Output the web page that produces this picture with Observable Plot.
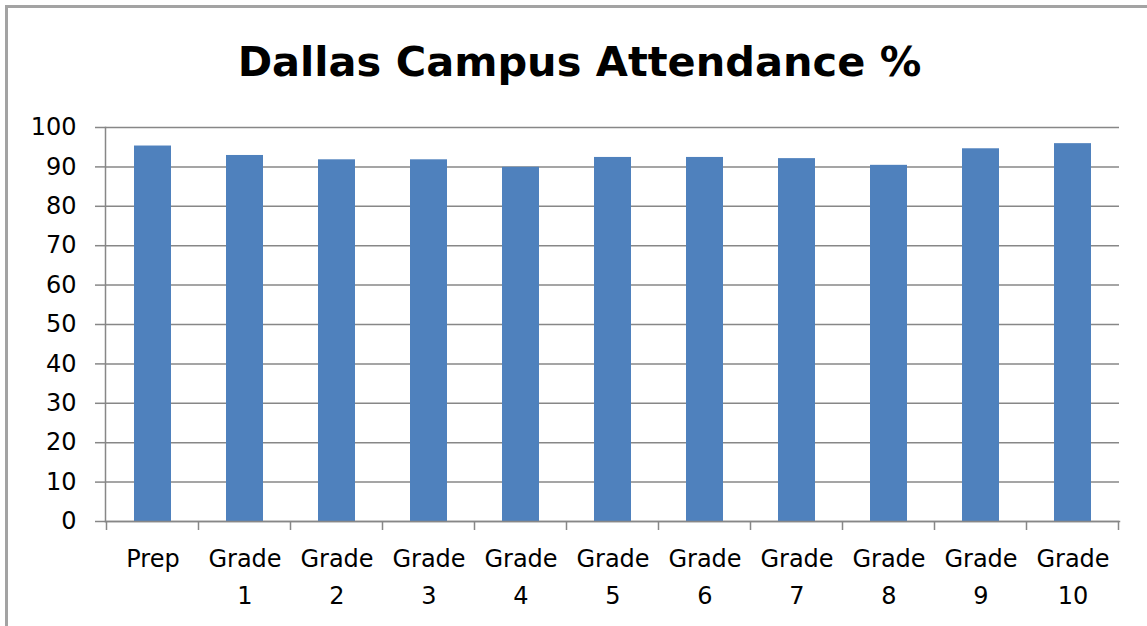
<!DOCTYPE html>
<html>
<head>
<meta charset="utf-8">
<script src="https://cdn.jsdelivr.net/npm/d3@7"></script>
<script src="https://cdn.jsdelivr.net/npm/@observablehq/plot@0.6"></script>
<style>
  html, body { margin: 0; padding: 0; background: #fff; width: 1147px; height: 626px; overflow: hidden; }
  #frame { position: absolute; left: 5px; top: 5px; width: 1300px; height: 800px; border-left: 3px solid #a3a3a3; border-top: 3px solid #a3a3a3; }
  #title { position: absolute; left: 12px; width: 1135px; top: 41px; text-align: center; font-family: "DejaVu Sans", sans-serif; font-weight: bold; font-size: 41.5px; line-height: 41.5px; color: #000; }
  #chart { position: absolute; left: 0; top: 100px; }
</style>
</head>
<body>
<div id="frame"></div>
<div id="title">Dallas Campus Attendance %</div>
<div id="chart"></div>
<script>
const categories = ["Prep", "Grade 1", "Grade 2", "Grade 3", "Grade 4", "Grade 5", "Grade 6", "Grade 7", "Grade 8", "Grade 9", "Grade 10"];
const tickLabels = ["Prep", "Grade\n1", "Grade\n2", "Grade\n3", "Grade\n4", "Grade\n5", "Grade\n6", "Grade\n7", "Grade\n8", "Grade\n9", "Grade\n10"];
const attendance = [95.3, 92.9, 91.8, 91.8, 89.9, 92.4, 92.4, 92.1, 90.4, 94.6, 95.9];
const yTicks = [0, 10, 20, 30, 40, 50, 60, 70, 80, 90, 100];

const data = categories.map((c, i) => ({grade: c, value: attendance[i]}));
const labelOf = new Map(categories.map((c, i) => [c, tickLabels[i]]));
const gray = "#878787";

function boundaryTicks(index, scales) {
  const x = scales.x, y = scales.y;
  const step = x(categories[1]) - x(categories[0]);
  const edges = categories.map(c => x(c) - step * 0.3);
  edges.push(x(categories[categories.length - 1]) + step * 0.7);
  const g = d3.create("svg:g");
  g.selectAll("line").data(edges).join("line")
    .attr("x1", d => Math.round(d) + 0.5).attr("x2", d => Math.round(d) + 0.5)
    .attr("y1", y(0)).attr("y2", y(0) + 9)
    .attr("stroke", gray).attr("stroke-width", 1.5);
  return g.node();
}

const chart = Plot.plot({
  width: 1147,
  height: 526,
  marginTop: 27,
  marginBottom: 105,
  marginLeft: 105,
  marginRight: 28,
  style: { fontFamily: "DejaVu Sans, sans-serif", fontSize: "24px", color: "#000", background: "transparent" },
  x: { domain: categories, paddingInner: 0.6, paddingOuter: 0.3 },
  y: { domain: [0, 100] },
  marks: [
    Plot.gridY(yTicks, { stroke: gray, strokeOpacity: 1, strokeWidth: 1.5 }),
    Plot.barY(data, { x: "grade", y: "value", fill: "#4F81BD" }),
    Plot.axisY({ ticks: yTicks, tickSize: 10, tickPadding: 19, label: null, stroke: gray, strokeWidth: 1.5, fill: "#000" }),
    Plot.axisX({ tickSize: 0, tickPadding: 19, label: null, tickFormat: d => labelOf.get(d), lineHeight: 1.54, fill: "#000" }),
    Plot.frame({ anchor: "left", stroke: gray, strokeWidth: 1.5 }),
    Plot.frame({ anchor: "bottom", stroke: gray, strokeWidth: 1.5 }),
    boundaryTicks
  ]
});
document.getElementById("chart").appendChild(chart);
</script>
</body>
</html>
